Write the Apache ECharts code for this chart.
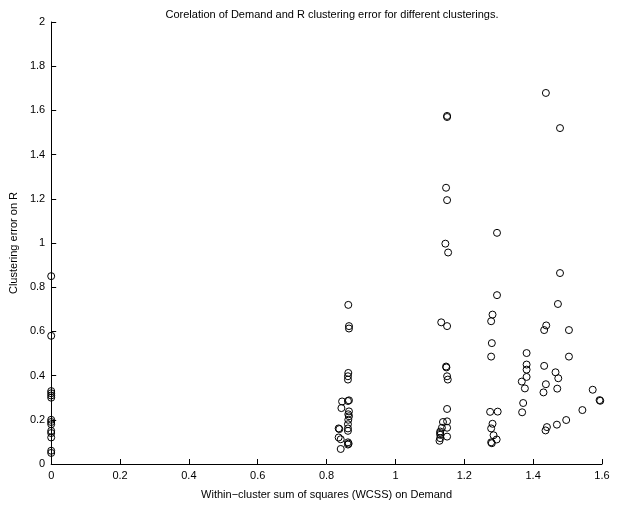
<!DOCTYPE html>
<html>
<head>
<meta charset="utf-8">
<script src="https://cdn.jsdelivr.net/npm/echarts@6/dist/echarts.min.js"></script>
<style>html,body{margin:0;padding:0;background:#fff}#c{width:621px;height:505px}</style>
</head>
<body>
<div id="c"></div>
<script>
// Tick labels
var xTicks = [0, 0.2, 0.4, 0.6, 0.8, 1, 1.2, 1.4, 1.6];
var yTicks = [0, 0.2, 0.4, 0.6, 0.8, 1, 1.2, 1.4, 1.6, 1.8, 2];

// Group at WCSS = 0
var g0X = [0, 0, 0, 0, 0, 0, 0, 0, 0, 0, 0, 0, 0, 0];
var g0Y = [0.85, 0.58, 0.33, 0.32, 0.31, 0.30, 0.20, 0.19, 0.18, 0.15, 0.14, 0.12, 0.06, 0.05];

// Group near WCSS 0.84-0.87
var g1X = [0.863, 0.865, 0.865, 0.863, 0.862, 0.862, 0.865, 0.845, 0.843, 0.865, 0.865, 0.863, 0.862, 0.835, 0.837, 0.862, 0.862, 0.835, 0.841, 0.862, 0.864, 0.862, 0.841, 0.862, 0.863];
var g1Y = [0.72, 0.624, 0.613, 0.412, 0.397, 0.382, 0.288, 0.283, 0.253, 0.238, 0.216, 0.20, 0.18, 0.161, 0.158, 0.161, 0.15, 0.12, 0.112, 0.098, 0.092, 0.088, 0.068, 0.285, 0.225];

// Group near WCSS 1.13-1.15
var g2X = [1.150, 1.150, 1.147, 1.150, 1.145, 1.153, 1.133, 1.150, 1.147, 1.148, 1.150, 1.152, 1.150, 1.138, 1.150, 1.135, 1.150, 1.130, 1.130, 1.130, 1.128, 1.150, 1.130];
var g2Y = [1.575, 1.570, 1.25, 1.194, 0.997, 0.957, 0.641, 0.624, 0.441, 0.437, 0.397, 0.382, 0.249, 0.19, 0.193, 0.164, 0.164, 0.147, 0.132, 0.117, 0.105, 0.124, 0.14];

// Group near WCSS 1.27-1.30
var g3X = [1.295, 1.295, 1.282, 1.278, 1.280, 1.278, 1.275, 1.297, 1.282, 1.278, 1.285, 1.294, 1.278, 1.280];
var g3Y = [1.046, 0.764, 0.676, 0.646, 0.547, 0.486, 0.236, 0.237, 0.182, 0.161, 0.13, 0.111, 0.098, 0.094];

// Group near WCSS 1.36-1.60
var g4X = [1.437, 1.478, 1.478, 1.472, 1.438, 1.432, 1.504, 1.381, 1.504, 1.381, 1.381, 1.432, 1.465, 1.473, 1.381, 1.367, 1.376, 1.437, 1.430, 1.470, 1.573, 1.595, 1.593, 1.371, 1.368, 1.543, 1.496, 1.469, 1.440, 1.436];
var g4Y = [1.679, 1.52, 0.864, 0.724, 0.627, 0.606, 0.606, 0.502, 0.486, 0.45, 0.427, 0.444, 0.415, 0.388, 0.394, 0.373, 0.342, 0.361, 0.324, 0.341, 0.336, 0.286, 0.289, 0.276, 0.234, 0.244, 0.199, 0.178, 0.167, 0.152];

function pairs(xs, ys) {
  var out = [];
  for (var i = 0; i < xs.length; i++) out.push([xs[i], ys[i]]);
  return out;
}
var allData = [].concat(pairs(g0X, g0Y), pairs(g1X, g1Y), pairs(g2X, g2Y), pairs(g3X, g3Y), pairs(g4X, g4Y));

var font = 'Liberation Sans, Arial, Helvetica, sans-serif';
var chart = echarts.init(document.getElementById('c'), null, {renderer: 'canvas'});
chart.setOption({
  animation: false,
  backgroundColor: '#fff',
  title: {
    text: 'Corelation of Demand and R clustering error for different clusterings.',
    left: 327, top: 4, textAlign: 'center',
    textStyle: {fontFamily: font, fontSize: 11, fontWeight: 'normal', color: '#000'}
  },
  grid: {left: 50, top: 22, right: 19, bottom: 33, containLabel: false},
  xAxis: {
    type: 'value', min: 0, max: 1.6, interval: 0.2,
    name: 'Within\u2212cluster sum of squares (WCSS) on Demand',
    nameLocation: 'middle', nameGap: 25,
    nameTextStyle: {fontFamily: font, fontSize: 11, color: '#000'},
    axisLine: {show: true, onZero: false, lineStyle: {color: '#000', width: 1}},
    axisTick: {show: true, inside: true, length: 5, lineStyle: {color: '#000'}},
    axisLabel: {fontFamily: font, fontSize: 11, color: '#000', margin: 6,
      formatter: function (v) { return String(+v.toFixed(1)); }},
    splitLine: {show: false}
  },
  yAxis: {
    type: 'value', min: 0, max: 2, interval: 0.2,
    name: 'Clustering error on R',
    nameLocation: 'middle', nameGap: 32,
    nameTextStyle: {fontFamily: font, fontSize: 11, color: '#000'},
    axisLine: {show: true, onZero: false, lineStyle: {color: '#000', width: 1}},
    axisTick: {show: true, inside: true, length: 5, lineStyle: {color: '#000'}},
    axisLabel: {fontFamily: font, fontSize: 11, color: '#000', margin: 6,
      formatter: function (v) { return String(+v.toFixed(1)); }},
    splitLine: {show: false}
  },
  series: [{
    type: 'scatter',
    data: allData,
    symbol: 'circle',
    symbolSize: 7,
    itemStyle: {color: 'rgba(0,0,0,0)', borderColor: '#000', borderWidth: 1, opacity: 1},
    emphasis: {disabled: true}
  }]
});
</script>
</body>
</html>
